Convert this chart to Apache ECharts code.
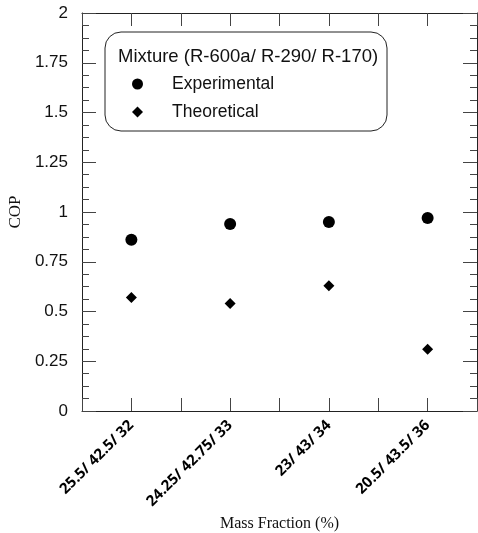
<!DOCTYPE html>
<html>
<head>
<meta charset="utf-8">
<script src="https://cdn.jsdelivr.net/npm/echarts@6/dist/echarts.min.js"></script>
<style>html,body{margin:0;padding:0;background:#fff}#c{width:478px;height:533px}</style>
</head>
<body>
<div id="c"></div>
<script>
// ---- data ----
var categories = ['25.5/ 42.5/ 32', '24.25/ 42.75/ 33', '23/ 43/ 34', '20.5/ 43.5/ 36'];
var experimental = [0.86, 0.94, 0.95, 0.97];
var theoretical = [0.57, 0.54, 0.63, 0.31];
var seriesNames = ['Experimental', 'Theoretical'];
var legendTitle = 'Mixture (R-600a/ R-290/ R-170)';
var xName = 'Mass Fraction (%)';
var yName = 'COP';

// axis slots: blank slot between/around each category
var axisData = [];
categories.forEach(function (c, i) { axisData.push('_gap' + i); axisData.push(c); });
axisData.push('_gap' + categories.length);

function pairs(vals) { return vals.map(function (v, i) { return [categories[i], v]; }); }

var chart = echarts.init(document.getElementById('c'), null, {renderer: 'canvas'});
var lineCol = '#222';
var tickCol = '#444';
var sans = 'Liberation Sans, Arial, sans-serif';
var serif = 'Liberation Serif, Times New Roman, serif';

var baseX = {
  type: 'category', data: axisData, boundaryGap: false,
  axisLine: {show: true, onZero: false, lineStyle: {color: lineCol, width: 1}},
  axisTick: {show: true, inside: true, length: 13, interval: 0, lineStyle: {color: tickCol}},
  splitLine: {show: false}
};
var baseY = {
  type: 'value', min: 0, max: 2, interval: 0.25,
  axisLine: {show: true, onZero: false, lineStyle: {color: lineCol, width: 1}},
  axisTick: {show: true, inside: true, length: 14, lineStyle: {color: tickCol}},
  minorTick: {show: true, splitNumber: 4, length: 7, lineStyle: {color: tickCol}},
  splitLine: {show: false}
};

chart.setOption({
  animation: false,
  backgroundColor: '#fff',
  grid: {left: 82, right: 1, top: 13, bottom: 122, containLabel: false, outerBoundsMode: 'none'},
  xAxis: [
    Object.assign({}, baseX, {
      position: 'bottom',
      name: xName, nameLocation: 'middle', nameGap: 100,
      nameTextStyle: {fontFamily: serif, fontSize: 16, color: '#111'},
      axisLabel: {
        interval: function (idx) { return idx % 2 === 1; },
        rotate: 45, margin: 12,
        fontFamily: 'Open Sans, sans-serif', fontWeight: 'bold', fontSize: 15, color: '#000'
      }
    }),
    Object.assign({}, baseX, {position: 'top', axisLabel: {show: false}})
  ],
  yAxis: [
    Object.assign({}, baseY, {
      position: 'left',
      name: yName, nameLocation: 'middle', nameGap: 58, nameRotate: 90,
      nameTextStyle: {fontFamily: serif, fontSize: 17, color: '#111'},
      axisLabel: {margin: 14, fontFamily: sans, fontSize: 17, color: '#111'}
    }),
    Object.assign({}, baseY, {position: 'right', axisLabel: {show: false}})
  ],
  title: {
    text: legendTitle, left: 118, top: 47,
    padding: 0,
    textStyle: {fontFamily: sans, fontSize: 18.5, fontWeight: 'normal', color: '#111'}
  },
  legend: {
    orient: 'vertical', left: 132, top: 75,
    itemWidth: 11, itemHeight: 11, itemGap: 10,
    padding: 0,
    data: seriesNames,
    selectedMode: false,
    textStyle: {fontFamily: sans, fontSize: 17.5, color: '#111', lineHeight: 18, padding: [0, 0, 0, 24]}
  },
  graphic: [{
    type: 'rect', z: 10, silent: true,
    shape: {x: 105, y: 32, width: 282, height: 99, r: 16},
    style: {fill: 'none', stroke: '#222', lineWidth: 1}
  }],
  series: [
    {name: seriesNames[0], type: 'scatter', symbol: 'circle', symbolSize: 12,
     itemStyle: {color: '#000', opacity: 1}, data: pairs(experimental)},
    {name: seriesNames[1], type: 'scatter', symbol: 'diamond', symbolSize: 11,
     itemStyle: {color: '#000', opacity: 1}, data: pairs(theoretical)}
  ]
});
</script>
</body>
</html>
